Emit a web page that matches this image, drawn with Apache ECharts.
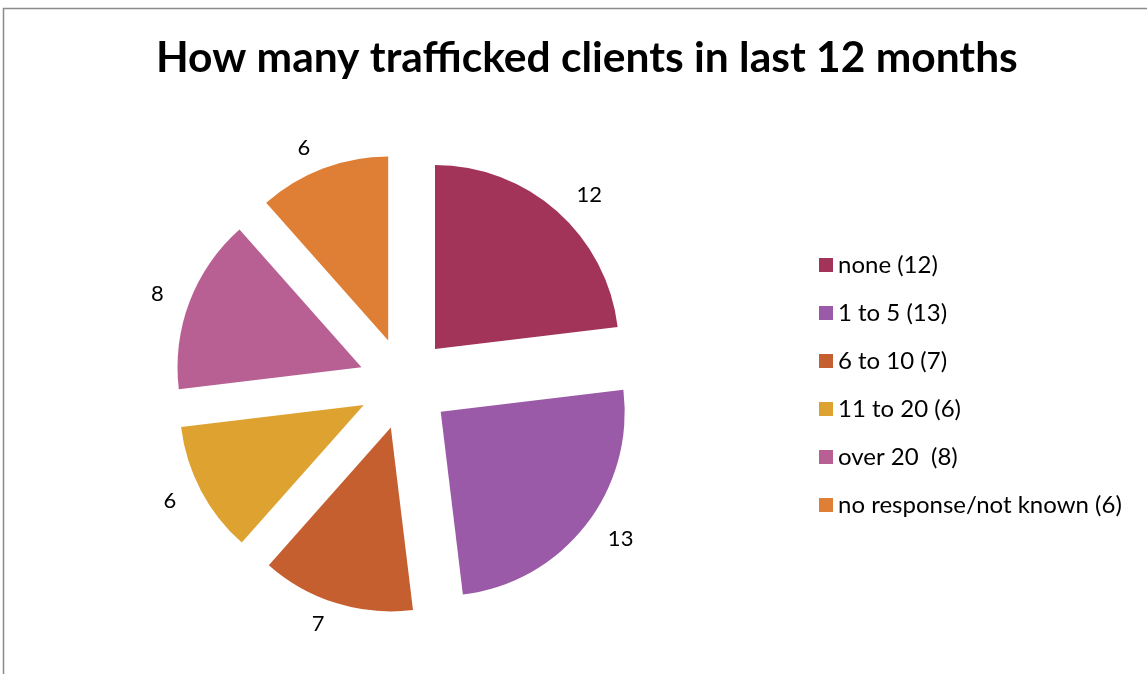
<!DOCTYPE html>
<html>
<head>
<meta charset="utf-8">
<script src="https://cdn.jsdelivr.net/npm/echarts@6/dist/echarts.min.js"></script>
<style>
html,body{margin:0;padding:0;background:#fff;}
#chart{width:1147px;height:674px;}
</style>
</head>
<body>
<div id="chart"></div>
<script>
const categories = ['none (12)', '1 to 5 (13)', '6 to 10 (7)', '11 to 20 (6)', 'over 20  (8)', 'no response/not known (6)'];
const values = [12, 13, 7, 6, 8, 6];
const colors = ['#A23359', '#9B5AA8', '#C55F30', '#DEA230', '#B86094', '#DF7F36'];
const titleText = 'How many trafficked clients in last 12 months';

const chart = echarts.init(document.getElementById('chart'));
chart.setOption({
  animation: false,
  color: colors,
  graphic: [{
    type: 'rect',
    shape: {x: 3.5, y: 8.5, width: 1200, height: 700},
    style: {fill: 'none', stroke: '#8a8a8a', lineWidth: 1.5},
    silent: true
  }],
  title: {
    text: titleText,
    left: 151,
    top: 32,
    textStyle: {fontFamily: 'Lato', fontWeight: 'bold', fontSize: 42.5, color: '#000'}
  },
  legend: {
    orient: 'vertical',
    left: 814,
    top: 248,
    itemWidth: 14,
    itemHeight: 14,
    itemGap: 24,
    icon: 'rect',
    selectedMode: false,
    textStyle: {fontFamily: 'Lato', fontSize: 24, color: '#000', lineHeight: 24},
    data: categories
  },
  series: [{
    type: 'pie',
    center: [404.5, 383.5],
    radius: 184,
    startAngle: 90,
    clockwise: true,
    selectedMode: 'multiple',
    selectedOffset: 46,
    avoidLabelOverlap: false,
    emphasis: {disabled: true},
    label: {
      show: true,
      position: 'outside',
      formatter: '{c}',
      fontFamily: 'Lato',
      fontSize: 22,
      color: '#000'
    },
    labelLine: {show: false, length: 22, length2: 0},
    data: categories.map((c, i) => ({name: c, value: values[i], selected: true}))
  }]
});
</script>
</body>
</html>
